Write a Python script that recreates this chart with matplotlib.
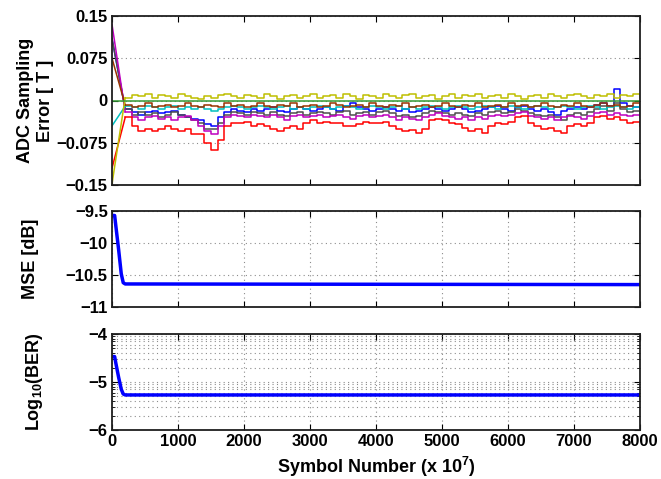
import matplotlib
matplotlib.use("Agg")
import matplotlib.pyplot as plt
from matplotlib.ticker import NullFormatter, LogLocator

plt.rcParams['font.family'] = ['Liberation Sans', 'DejaVu Sans']
plt.rcParams['font.weight'] = 'bold'
plt.rcParams['axes.labelweight'] = 'bold'
plt.rcParams['mathtext.fontset'] = 'custom'
plt.rcParams['mathtext.rm'] = 'Liberation Sans:bold'
plt.rcParams['mathtext.default'] = 'rm'

# ---------------- data ----------------
x_ticks = [0, 1000, 2000, 3000, 4000, 5000, 6000, 7000, 8000]
x_labels = ['0', '1000', '2000', '3000', '4000', '5000', '6000', '7000', '8000']
x_steady = list(range(200, 8001, 100))

start_vals = {
    'blue': 0.110, 'gray': 0.110, 'magenta': 0.135, 'red': -0.120,
    'cyan': -0.045, 'brown': 0.075, 'yellow': -0.148,
}

red_err = [
    -0.030, -0.045, -0.055, -0.050, -0.055, -0.050, -0.045, -0.050, -0.055, -0.050,
    -0.060, -0.060, -0.075, -0.088, -0.070, -0.045, -0.040, -0.040, -0.038, -0.045,
    -0.042, -0.045, -0.050, -0.055, -0.048, -0.045, -0.050, -0.040, -0.035, -0.040,
    -0.038, -0.040, -0.040, -0.045, -0.045, -0.042, -0.038, -0.040, -0.040, -0.038,
    -0.045, -0.050, -0.055, -0.052, -0.058, -0.050, -0.035, -0.032, -0.035, -0.040,
    -0.042, -0.048, -0.055, -0.050, -0.058, -0.045, -0.040, -0.042, -0.038, -0.030,
    -0.028, -0.040, -0.045, -0.050, -0.048, -0.055, -0.058, -0.045, -0.042, -0.045,
    -0.040, -0.030, -0.028, -0.032, -0.030, -0.035, -0.040, -0.038, -0.045]

magenta_err = [
    -0.020, -0.030, -0.035, -0.030, -0.028, -0.032, -0.030, -0.035, -0.030, -0.028,
    -0.035, -0.045, -0.055, -0.060, -0.045, -0.030, -0.025, -0.028, -0.030, -0.025,
    -0.028, -0.030, -0.025, -0.030, -0.035, -0.028, -0.025, -0.030, -0.028, -0.025,
    -0.030, -0.028, -0.025, -0.030, -0.032, -0.028, -0.025, -0.030, -0.028, -0.025,
    -0.030, -0.035, -0.030, -0.032, -0.035, -0.030, -0.025, -0.022, -0.028, -0.030,
    -0.032, -0.030, -0.035, -0.030, -0.032, -0.028, -0.025, -0.028, -0.025, -0.022,
    -0.020, -0.028, -0.030, -0.032, -0.030, -0.035, -0.030, -0.028, -0.030, -0.032,
    -0.028, -0.022, -0.020, -0.025, -0.022, -0.025, -0.028, -0.025, -0.030]

gray_err = [
    -0.015, -0.025, -0.020, -0.025, -0.022, -0.030, -0.025, -0.020, -0.025, -0.030,
    -0.035, -0.040, -0.050, -0.050, -0.040, -0.025, -0.020, -0.022, -0.025, -0.020,
    -0.022, -0.025, -0.020, -0.025, -0.028, -0.022, -0.020, -0.025, -0.022, -0.020,
    -0.022, -0.025, -0.020, -0.018, -0.025, -0.022, -0.020, -0.025, -0.020, -0.018,
    -0.022, -0.028, -0.025, -0.030, -0.028, -0.022, -0.018, -0.020, -0.022, -0.025,
    -0.022, -0.025, -0.028, -0.022, -0.025, -0.020, -0.018, -0.022, -0.020, -0.015,
    -0.018, -0.022, -0.025, -0.028, -0.025, -0.030, -0.035, -0.025, -0.022, -0.025,
    -0.020, -0.015, -0.010, -0.018, -0.005, -0.015, -0.020, -0.018, -0.022]

blue_err = [
    -0.015, -0.020, -0.025, -0.020, -0.018, -0.022, -0.020, -0.018, -0.025, -0.030,
    -0.032, -0.035, -0.042, -0.045, -0.030, -0.020, -0.015, -0.018, -0.020, -0.015,
    -0.018, -0.015, -0.012, -0.018, -0.020, -0.015, -0.012, -0.015, -0.018, -0.015,
    -0.012, -0.015, -0.018, -0.010, -0.005, -0.012, -0.015, -0.018, -0.015, -0.012,
    -0.015, -0.018, -0.015, -0.020, -0.018, -0.015, -0.012, -0.015, -0.018, -0.015,
    -0.012, -0.015, -0.020, -0.018, -0.015, -0.012, -0.010, -0.015, -0.018, -0.012,
    -0.010, -0.015, -0.018, -0.015, -0.020, -0.025, -0.018, -0.015, -0.012, -0.015,
    -0.012, -0.008, -0.005, -0.010, 0.020, -0.005, -0.010, -0.012, -0.015]

cyan_err = [
    -0.010, -0.012, -0.015, -0.010, -0.012, -0.015, -0.012, -0.010, -0.015, -0.012,
    -0.015, -0.012, -0.015, -0.018, -0.015, -0.012, -0.010, -0.012, -0.015, -0.012,
    -0.010, -0.012, -0.015, -0.012, -0.010, -0.015, -0.012, -0.015, -0.012, -0.010,
    -0.012, -0.015, -0.012, -0.010, -0.012, -0.015, -0.012, -0.010, -0.012, -0.015,
    -0.012, -0.010, -0.015, -0.012, -0.015, -0.012, -0.010, -0.012, -0.015, -0.012,
    -0.010, -0.012, -0.015, -0.012, -0.010, -0.012, -0.015, -0.012, -0.010, -0.012,
    -0.015, -0.012, -0.010, -0.012, -0.015, -0.012, -0.010, -0.012, -0.015, -0.012,
    -0.010, -0.012, -0.015, -0.012, -0.010, -0.012, -0.015, -0.012, -0.010]

brown_err = [
    -0.008, -0.012, -0.010, -0.005, -0.012, -0.010, -0.008, -0.012, -0.010, -0.005,
    -0.010, -0.012, -0.008, -0.010, -0.012, -0.005, -0.010, -0.008, -0.012, -0.010,
    -0.005, -0.010, -0.012, -0.008, -0.010, -0.005, -0.012, -0.010, -0.008, -0.012,
    -0.010, -0.005, -0.008, -0.012, -0.010, -0.008, -0.012, -0.005, -0.010, -0.012,
    -0.008, -0.010, -0.005, -0.012, -0.010, -0.008, -0.012, -0.010, -0.005, -0.010,
    -0.012, -0.008, -0.010, -0.005, -0.012, -0.010, -0.008, -0.012, -0.005, -0.010,
    -0.008, -0.012, -0.010, -0.005, -0.010, -0.012, -0.008, -0.010, -0.005, -0.010,
    -0.012, -0.008, -0.005, -0.010, -0.008, -0.012, -0.010, -0.005, -0.008]

yellow_err = [
    0.005, 0.010, 0.008, 0.012, 0.005, 0.010, 0.008, 0.005, 0.012, 0.008,
    0.005, 0.003, 0.008, 0.005, 0.010, 0.012, 0.008, 0.005, 0.010, 0.008,
    0.005, 0.012, 0.008, 0.003, 0.008, 0.010, 0.005, 0.008, 0.012, 0.005,
    0.008, 0.010, 0.005, 0.012, 0.008, 0.003, 0.010, 0.008, 0.005, 0.012,
    0.008, 0.005, 0.010, 0.012, 0.005, 0.008, 0.010, 0.003, 0.008, 0.012,
    0.005, 0.010, 0.008, 0.012, 0.005, 0.008, 0.010, 0.005, 0.012, 0.008,
    0.003, 0.008, 0.010, 0.005, 0.012, 0.008, 0.005, 0.010, 0.012, 0.008,
    0.005, 0.010, 0.008, 0.012, 0.005, 0.010, 0.008, 0.012, 0.005]

green_x = [0, 8000]
green_err = [0.0, 0.0]

mse_x = [0, 40, 60, 100, 140, 170, 200, 8000]
mse_db = [-9.57, -9.57, -9.75, -10.10, -10.48, -10.62, -10.64, -10.65]

ber_x = [0, 40, 60, 100, 140, 170, 200, 8000]
ber_log10 = [-4.47, -4.47, -4.62, -4.90, -5.15, -5.25, -5.27, -5.27]

err_yticks = [-0.15, -0.075, 0, 0.075, 0.15]
err_ylabels = ['\u22120.15', '\u22120.075', '0', '0.075', '0.15']
mse_yticks = [-11, -10.5, -10, -9.5]
mse_ylabels = ['\u221211', '\u221210.5', '\u221210', '\u22129.5']
ber_yticks = [1e-6, 1e-5, 1e-4]
ber_ylabels = ['\u22126', '\u22125', '\u22124']

# ---------------- style ----------------
colors = {
    'blue': (0, 0, 1), 'gray': (0.3, 0.3, 0.3), 'magenta': (0.75, 0, 0.75),
    'red': (1, 0, 0), 'cyan': (0, 0.75, 0.75), 'brown': (0.6, 0.2, 0.0),
    'yellow': (0.75, 0.75, 0), 'green': (0.2, 0.6, 0.2),
}
series = [('blue', blue_err), ('gray', gray_err), ('magenta', magenta_err),
          ('red', red_err), ('cyan', cyan_err), ('brown', brown_err),
          ('yellow', yellow_err)]

W, H = 661, 479
fig = plt.figure(figsize=(W / 100, H / 100), dpi=100)

def px_axes(l, t, r, b):
    return fig.add_axes([l / W, 1 - b / H, (r - l) / W, (b - t) / H])

ax1 = px_axes(112, 16, 640, 185)
ax2 = px_axes(112, 211, 640, 307)
ax3 = px_axes(112, 334, 640, 430)

grid_kw = dict(color=(0.55, 0.55, 0.55), linestyle=(0, (1, 3)), linewidth=0.8)
tick_fs = 12
lab_fs = 13
tfont = dict(fontsize=tick_fs, fontweight='bold')

for name, vals in series:
    c = colors[name]
    ax1.plot([0, x_steady[0]], [start_vals[name], vals[0]], color=c, lw=1.1)
    ax1.plot(x_steady, vals, color=c, lw=1.1, drawstyle='steps-post')
ax1.plot(green_x, green_err, color=colors['green'], lw=1.1)

ax1.set_ylim(-0.15, 0.15)
ax1.set_yticks(err_yticks, err_ylabels, **tfont)
ax1.yaxis.grid(True, **grid_kw)
ax1.set_ylabel('ADC Sampling\nError [ T ]', fontsize=lab_fs, fontweight='bold', linespacing=1.2)
ax1.yaxis.set_label_coords(-0.11, 0.5)

ax2.plot(mse_x, mse_db, color=(0, 0, 1), lw=2.5)
ax2.set_ylim(-11, -9.5)
ax2.set_yticks(mse_yticks, mse_ylabels, **tfont)
ax2.grid(True, **grid_kw)
ax2.set_ylabel('MSE [dB]', fontsize=lab_fs, fontweight='bold')
ax2.yaxis.set_label_coords(-0.138, 0.5)

ax3.semilogy(ber_x, [10 ** v for v in ber_log10], color=(0, 0, 1), lw=2.5)
ax3.set_ylim(1e-6, 1e-4)
ax3.set_yticks(ber_yticks, ber_ylabels, **tfont)
ax3.yaxis.set_minor_locator(LogLocator(base=10, subs=range(2, 10)))
ax3.yaxis.set_minor_formatter(NullFormatter())
ax3.grid(True, which='major', **grid_kw)
ax3.yaxis.grid(True, which='minor', **grid_kw)
ax3.set_ylabel('Log$_{10}$(BER)', fontsize=lab_fs, fontweight='bold')
ax3.yaxis.set_label_coords(-0.127, 0.5)
ax3.set_xlabel('Symbol Number (x 10$^7$)', fontsize=lab_fs, fontweight='bold', labelpad=4)

for ax in (ax1, ax2, ax3):
    ax.set_xlim(0, 8000)
    if ax is ax3:
        ax.set_xticks(x_ticks, x_labels, **tfont)
    else:
        ax.set_xticks(x_ticks)
        ax.tick_params(labelbottom=False)
    ax.tick_params(direction='in', top=True, right=True, length=4, width=0.8, pad=3)
    ax.tick_params(which='minor', direction='in', right=True, length=2, width=0.6)
    for s in ax.spines.values():
        s.set_linewidth(1.3)
        s.set_color((0.12, 0.12, 0.12))
    ax.set_axisbelow(True)

fig.savefig('out.png', dpi=100)
